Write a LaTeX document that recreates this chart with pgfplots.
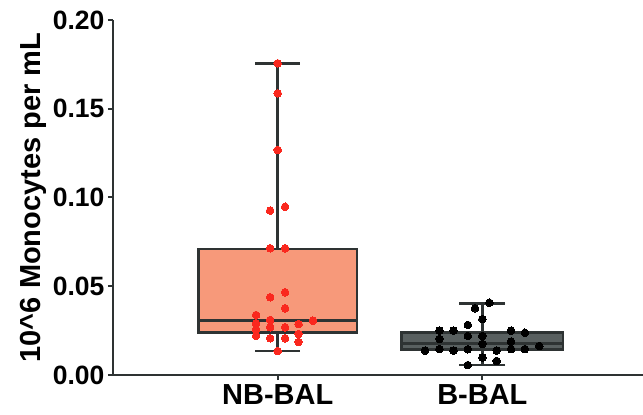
\documentclass[border=0pt]{standalone}
\usepackage{fontspec}
\setmainfont{Liberation Sans}
\usepackage{pgfplots}
\pgfplotsset{compat=1.18}
\usepgfplotslibrary{statistics}
\definecolor{salmon}{RGB}{247,153,122}
\definecolor{boxgray}{RGB}{89,96,96}
\definecolor{edge}{RGB}{46,51,51}
\definecolor{dotred}{RGB}{250,40,30}
\begin{document}
\begin{tikzpicture}
\path[use as bounding box] (-113pt,-40pt) rectangle (530pt,375pt);
\begin{axis}[
  anchor=south west, at={(0pt,0pt)},
  scale only axis, width=530pt, height=355pt,
  xmin=0.195, xmax=2.785, ymin=0, ymax=0.2,
  axis x line*=bottom, axis y line*=left,
  axis line style={line width=2.2pt, edge, -},
  xtick={1,2}, xticklabels={NB-BAL,B-BAL},
  ytick={0,0.05,0.10,0.15,0.20},
  yticklabel style={/pgf/number format/.cd, fixed, fixed zerofill, precision=2, assume math mode=true},
  tick style={line width=2pt, edge},
  tick align=outside, major tick length=5pt,
  every tick label/.append style={font=\fontsize{26.5}{29}\selectfont\bfseries},
  xticklabel style={font=\fontsize{29}{32}\selectfont\bfseries, yshift=-1pt},
  ylabel={10\string^6 Monocytes per mL},
  ylabel style={font=\fontsize{29}{32}\selectfont\bfseries},
  boxplot/draw direction=y,
  boxplot/every box/.style={draw=edge, line width=2.5pt},
  boxplot/every whisker/.style={draw=edge, line width=2.5pt},
  boxplot/every median/.style={draw=edge, line width=2.5pt},
  clip=false,
]
\addplot[boxplot prepared={draw position=1, median=0.0306, upper quartile=0.071, lower quartile=0.024, upper whisker=0.1756, lower whisker=0.0135, box extend=0.775, whisker extend=0.22},
  draw=edge, line width=2.5pt, fill=salmon, solid, mark=none] coordinates {};
\addplot[boxplot prepared={draw position=2, median=0.0178, upper quartile=0.024, lower quartile=0.0145, upper whisker=0.0404, lower whisker=0.0056, box extend=0.79, whisker extend=0.225},
  draw=edge, line width=2.5pt, fill=boxgray, solid, mark=none] coordinates {};
\addplot[only marks, color=dotred, mark=*, mark size=3.8pt, mark options={draw=dotred, fill=dotred, line width=0pt}] coordinates {
(1.000,0.1756) (1.000,0.1587) (1.000,0.1268)
(0.963,0.0926) (1.036,0.0948)
(0.963,0.0714) (1.036,0.0714)
(1.036,0.0466) (0.963,0.0438) (1.036,0.0376)
(0.894,0.0338) (0.963,0.0310) (1.172,0.0306) (0.894,0.0291) (1.102,0.0287)
(0.963,0.0269) (1.036,0.0269) (0.894,0.0257) (1.102,0.0231) (0.894,0.0220)
(0.963,0.0207) (1.036,0.0207) (1.102,0.0186) (1.000,0.0135)
};
\addplot[only marks, color=black, mark=*, mark size=3.8pt, mark options={draw=black, fill=black, line width=0pt}] coordinates {
(2.034,0.0407) (1.964,0.0376) (2.000,0.0315) (1.929,0.0282)
(1.790,0.0250) (1.859,0.0250) (2.140,0.0250) (2.208,0.0238)
(1.929,0.0220) (1.790,0.0203) (2.000,0.0220) (2.000,0.0175)
(2.140,0.0188) (2.278,0.0163) (1.720,0.0137) (1.790,0.0146)
(1.859,0.0137) (1.929,0.0145) (2.070,0.0137) (2.140,0.0146)
(2.208,0.0146) (2.000,0.0098) (2.070,0.0079) (1.929,0.0056)
};
\end{axis}
\end{tikzpicture}
\end{document}
